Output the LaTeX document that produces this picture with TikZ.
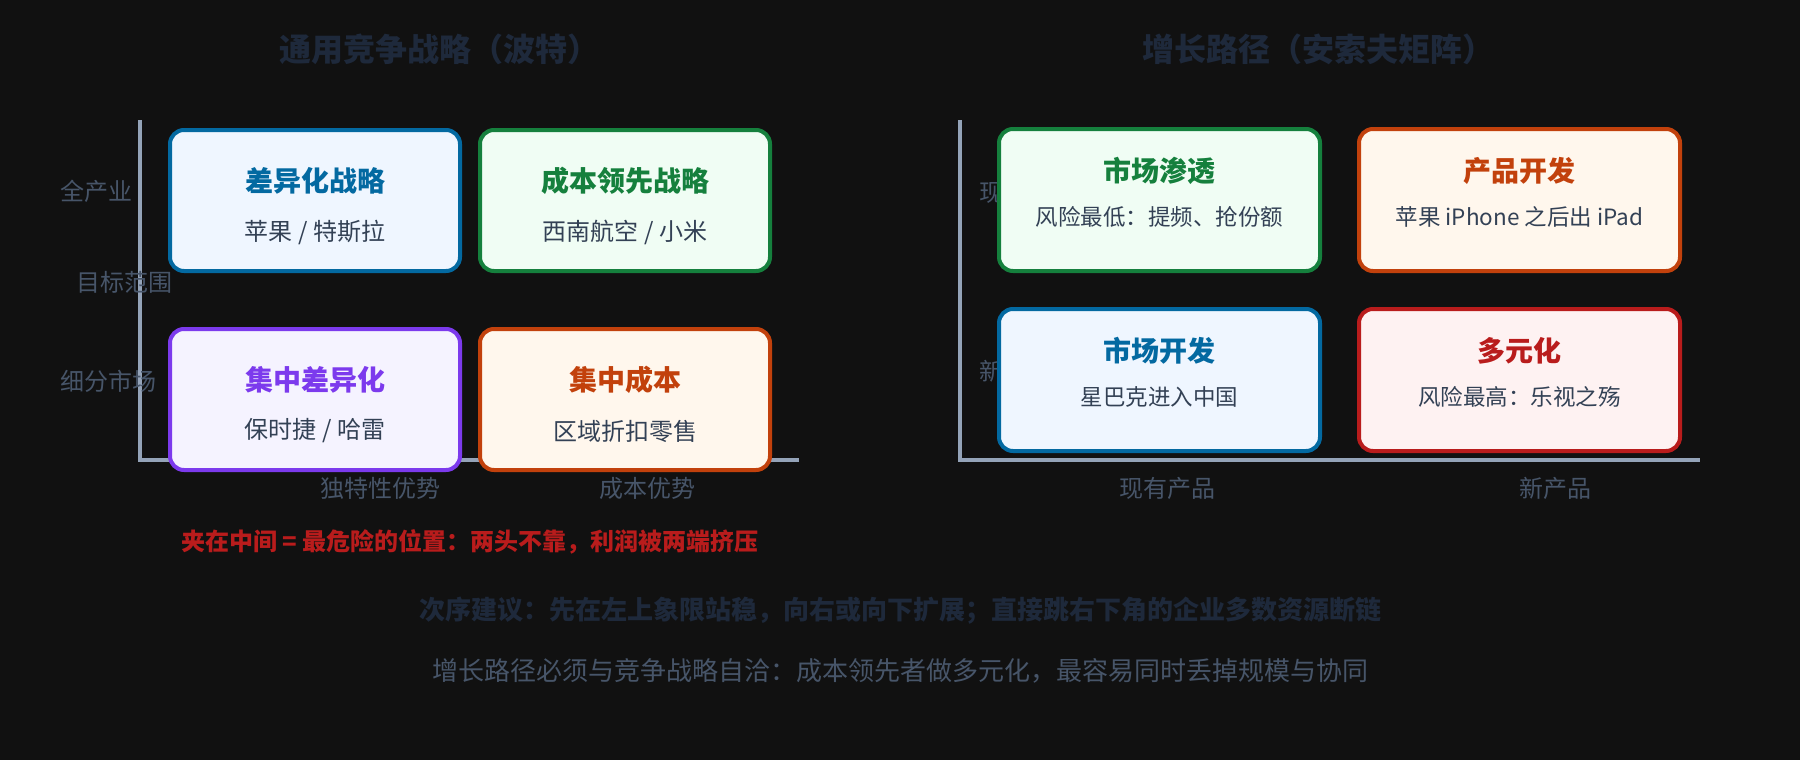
\documentclass[tikz,border=0pt]{standalone}
\usepackage{fontspec}
\setmainfont{Noto Sans CJK SC}
\usetikzlibrary{positioning}
\definecolor{bgc}{HTML}{111111}
\definecolor{headc}{HTML}{1E293B}
\definecolor{axisc}{HTML}{94A3B8}
\definecolor{labc}{HTML}{475569}
\definecolor{subc}{HTML}{334155}
\definecolor{bluec}{HTML}{0369A1}
\definecolor{bluef}{HTML}{EFF6FF}
\definecolor{greenc}{HTML}{15803D}
\definecolor{greenf}{HTML}{F0FDF4}
\definecolor{violetc}{HTML}{7C3AED}
\definecolor{violetf}{HTML}{F5F3FF}
\definecolor{orangec}{HTML}{C2410C}
\definecolor{orangef}{HTML}{FFF7ED}
\definecolor{redc}{HTML}{B91C1C}
\definecolor{redf}{HTML}{FEF2F2}

\begin{document}
\begin{tikzpicture}[x=1pt, y=-1pt, inner sep=0pt,
    quad/.style = {draw, line width=4pt, rounded corners=14pt, outer sep=0pt,
                   minimum width=290pt, minimum height=141pt},
    wquad/.style = {quad, minimum width=321pt, minimum height=142pt},
    head/.style = {font=\bfseries\fontsize{32}{38}\selectfont, text=headc},
    qtitle/.style = {font=\bfseries\fontsize{28}{34}\selectfont},
    qsub/.style = {font=\fontsize{24}{28}\selectfont, text=subc},
    wsub/.style = {qsub, font=\fontsize{22.5}{27}\selectfont},
    lab/.style = {font=\fontsize{24}{28}\selectfont, text=labc},
    axis/.style = {draw=axisc, line width=3.5pt}]
    \fill[bgc] (0,0) rectangle (1800,760);
    \useasboundingbox (0,0) rectangle (1800,760);

    % Porter
    \node[head] (porter) at (439,49) {通用竞争战略（波特）};

    \coordinate (ptop) at (140,120);
    \coordinate (porigin) at (140,460);
    \coordinate (pend) at (799,460);
    \draw[axis] (ptop) -- (porigin) -- (pend);

    \node[lab] (whole) at (96,191) {全产业};
    \node[lab] (scope) at (124,282) {目标范围};
    \node[lab] (niche) at (108,381) {细分市场};
    \node[lab] (uniq) at (380,488) {独特性优势};
    \node[lab] (costadv) at (647,488) {成本优势};

    \node[quad, draw=bluec, fill=bluef] (diff) at (315,200.5) {};
    \node[quad, draw=greenc, fill=greenf] (cost) [right=20pt of diff] {};
    \node[quad, draw=violetc, fill=violetf] (fdiff) [below=58pt of diff] {};
    \node[quad, draw=orangec, fill=orangef] (fcost) [below=58pt of cost] {};

    \node[qtitle, text=bluec] (difft) at ([yshift=19.5pt]diff.center) {差异化战略};
    \node[qsub] (diffs) at ([yshift=-31.5pt]diff.center) {苹果 / 特斯拉};
    \node[qtitle, text=greenc] (costt) at ([yshift=19.5pt]cost.center) {成本领先战略};
    \node[qsub] (costs) at ([yshift=-31.5pt]cost.center) {西南航空 / 小米};
    \node[qtitle, text=violetc] (fdifft) at ([yshift=19.5pt]fdiff.center) {集中差异化};
    \node[qsub] (fdiffs) at ([yshift=-31.5pt]fdiff.center) {保时捷 / 哈雷};
    \node[qtitle, text=orangec] (fcostt) at ([yshift=19.5pt]fcost.center) {集中成本};
    \node[qsub] (fcosts) at ([yshift=-31.5pt]fcost.center) {区域折扣零售};

    \node[font=\bfseries\fontsize{24}{28}\selectfont, text=redc] (stuck) at (470,542)
        {夹在中间 = 最危险的位置：两头不靠，利润被两端挤压};

    % Ansoff
    \node[head] (ansoff) at (1318,49) {增长路径（安索夫矩阵）};

    \coordinate (atop) at (960,120);
    \coordinate (aorigin) at (960,460);
    \coordinate (aend) at (1700,460);
    \draw[axis] (atop) -- (aorigin) -- (aend);

    \node[lab, anchor=west] (oldmkt) at (979,192) {现有市场};
    \node[lab, anchor=west] (newmkt) at (979,371) {新市场};
    \node[lab] (oldprod) at (1167,488) {现有产品};
    \node[lab] (newprod) at (1555,488) {新产品};

    \node[wquad, draw=greenc, fill=greenf] (pen) at (1159.5,200) {};
    \node[wquad, draw=orangec, fill=orangef] (prod) [right=39pt of pen] {};
    \node[wquad, draw=bluec, fill=bluef] (mkt) [below=38pt of pen] {};
    \node[wquad, draw=redc, fill=redf] (divers) [below=38pt of prod] {};

    \node[qtitle, text=greenc] (pent) at ([yshift=29.5pt]pen.center) {市场渗透};
    \node[wsub] (pens) at ([yshift=-17pt]pen.center) {风险最低：提频、抢份额};
    \node[qtitle, text=orangec] (prodt) at ([yshift=29.5pt]prod.center) {产品开发};
    \node[wsub] (prods) at ([yshift=-17pt]prod.center) {苹果 iPhone 之后出 iPad};
    \node[qtitle, text=bluec] (mktt) at ([yshift=29.5pt]mkt.center) {市场开发};
    \node[wsub] (mkts) at ([yshift=-17pt]mkt.center) {星巴克进入中国};
    \node[qtitle, text=redc] (diverst) at ([yshift=29.5pt]divers.center) {多元化};
    \node[wsub] (diverss) at ([yshift=-17pt]divers.center) {风险最高：乐视之殇};

    % notes
    \node[font=\bfseries\fontsize{26}{32}\selectfont, text=headc] (order) at (900,611)
        {次序建议：先在左上象限站稳，向右或向下扩展；直接跳右下角的企业多数资源断链};
    \node[font=\fontsize{26}{32}\selectfont, text=labc] (fit) at (900,671)
        {增长路径必须与竞争战略自洽：成本领先者做多元化，最容易同时丢掉规模与协同};
\end{tikzpicture}
\end{document}
